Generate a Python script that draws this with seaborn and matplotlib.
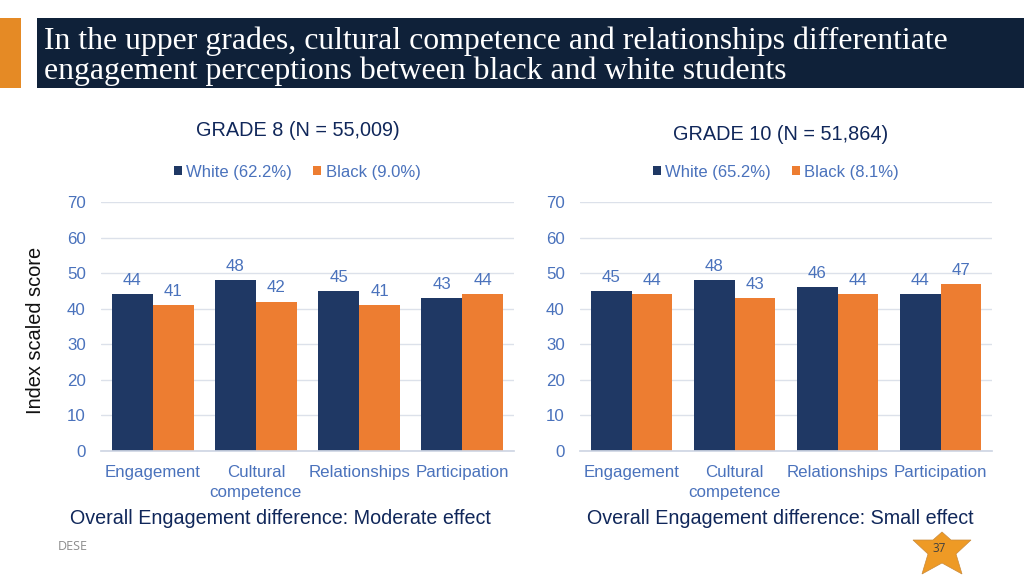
import matplotlib
matplotlib.use("Agg")
import matplotlib.pyplot as plt
import pandas as pd
import seaborn as sns
from matplotlib.patches import Polygon, Rectangle

categories = ["Engagement", "Cultural\ncompetence", "Relationships", "Participation"]
grade8_white = [44, 48, 45, 43]
grade8_black = [41, 42, 41, 44]
grade10_white = [45, 48, 46, 44]
grade10_black = [44, 43, 44, 47]
grade8_series = ["White (62.2%)", "Black (9.0%)"]
grade10_series = ["White (65.2%)", "Black (8.1%)"]
y_ticks = [0, 10, 20, 30, 40, 50, 60, 70]

NAVY = "#1F3864"
ORANGE = "#ED7D31"
BLUE_TEXT = "#4A72BC"
DARK_TEXT = "#10275A"
W, H = 1024, 576

# outline of the page number badge, in pixels around its centre
STAR_OUTLINE = [(0, 532), (-9, 540), (-29, 540), (-14, 554), (-20, 574),
                (0, 563), (20, 574), (14, 554), (29, 540), (9, 540)]

sns.set_theme(style="white")
plt.rcParams["font.family"] = ["Liberation Sans", "DejaVu Sans"]


def px_axes(fig, left, right, top, bottom):
    return fig.add_axes([left / W, 1 - bottom / H, (right - left) / W, (bottom - top) / H])


def px_text(fig, x, y, s, **kwargs):
    kwargs.setdefault("ha", "center")
    kwargs.setdefault("va", "center")
    return fig.text(x / W, 1 - y / H, s, **kwargs)


def grouped_bars(ax, white, black, series):
    df = pd.DataFrame({
        "category": categories * 2,
        "score": white + black,
        "group": [series[0]] * 4 + [series[1]] * 4,
    })
    sns.barplot(data=df, x="category", y="score", hue="group", order=categories,
                hue_order=series, palette=[NAVY, ORANGE], width=0.795, gap=0,
                saturation=1, linewidth=0, ax=ax)
    for container in ax.containers:
        ax.bar_label(container, padding=4.5, fontsize=12.2, color=BLUE_TEXT)
    ax.set_ylim(0, 70)
    ax.set_yticks(y_ticks)
    ax.set_xlim(-0.5, 3.5)
    ax.set_xlabel("")
    ax.set_ylabel("")
    ax.grid(axis="y", color="#DCE1EA", linewidth=1)
    ax.set_axisbelow(True)
    ax.tick_params(axis="both", length=0, labelsize=12.2, labelcolor=BLUE_TEXT)
    ax.tick_params(axis="y", pad=11)
    ax.tick_params(axis="x", pad=10.3)
    for label in ax.get_xticklabels():
        label.set_linespacing(1.35)
        label.set_va("top")
    sns.despine(ax=ax, left=True, bottom=False)
    ax.spines["bottom"].set_color("#CFD6E4")
    ax.legend(loc="center", bbox_to_anchor=(0.475, 1.12), ncols=2, frameon=False,
              fontsize=12, labelcolor=BLUE_TEXT, handlelength=0.5, handleheight=0.5,
              handletextpad=0.25, columnspacing=1.25)


fig = plt.figure(figsize=(W / 100, H / 100), dpi=100, facecolor="white")

# slide header
fig.patches.append(Rectangle((0, 1 - 88 / H), 21 / W, 70 / H, transform=fig.transFigure,
                             facecolor="#E58A25", edgecolor="none"))
fig.patches.append(Rectangle((37 / W, 1 - 88 / H), 987 / W, 70 / H, transform=fig.transFigure,
                             facecolor="#0F2139", edgecolor="none"))
px_text(fig, 44, 41, "In the upper grades, cultural competence and relationships differentiate",
        ha="left", color="white", fontsize=22.9, family="Liberation Serif")
px_text(fig, 44, 71, "engagement perceptions between black and white students",
        ha="left", color="white", fontsize=22.9, family="Liberation Serif")

ax_left = px_axes(fig, 101, 514, 202, 451)
ax_right = px_axes(fig, 580, 992, 202, 451)
grouped_bars(ax_left, grade8_white, grade8_black, grade8_series)
grouped_bars(ax_right, grade10_white, grade10_black, grade10_series)

px_text(fig, 298, 130, "GRADE 8 (N = 55,009)", fontsize=14.3, color=DARK_TEXT)
px_text(fig, 781, 135, "GRADE 10 (N = 51,864)", fontsize=14.3, color=DARK_TEXT)
px_text(fig, 36, 330, "Index scaled score", fontsize=14.4, color="#111111", rotation=90)
px_text(fig, 280, 518, "Overall Engagement difference: Moderate effect", fontsize=14.2, color=DARK_TEXT)
px_text(fig, 780, 518, "Overall Engagement difference: Small effect", fontsize=14.2, color=DARK_TEXT)
px_text(fig, 58, 546, "DESE", ha="left", fontsize=9, color="#8C8C8C", family="Open Sans")

star_px = [((942 + dx) / W, 1 - y / H) for dx, y in STAR_OUTLINE]
fig.patches.append(Polygon(star_px, closed=True, transform=fig.transFigure,
                           facecolor="#EE9A25", edgecolor="#C98A3A", linewidth=0.5))
px_text(fig, 939, 549, "37", fontsize=8.5, color="#404040", family="Open Sans")

fig.savefig("out.png", dpi=100)
plt.close(fig)
